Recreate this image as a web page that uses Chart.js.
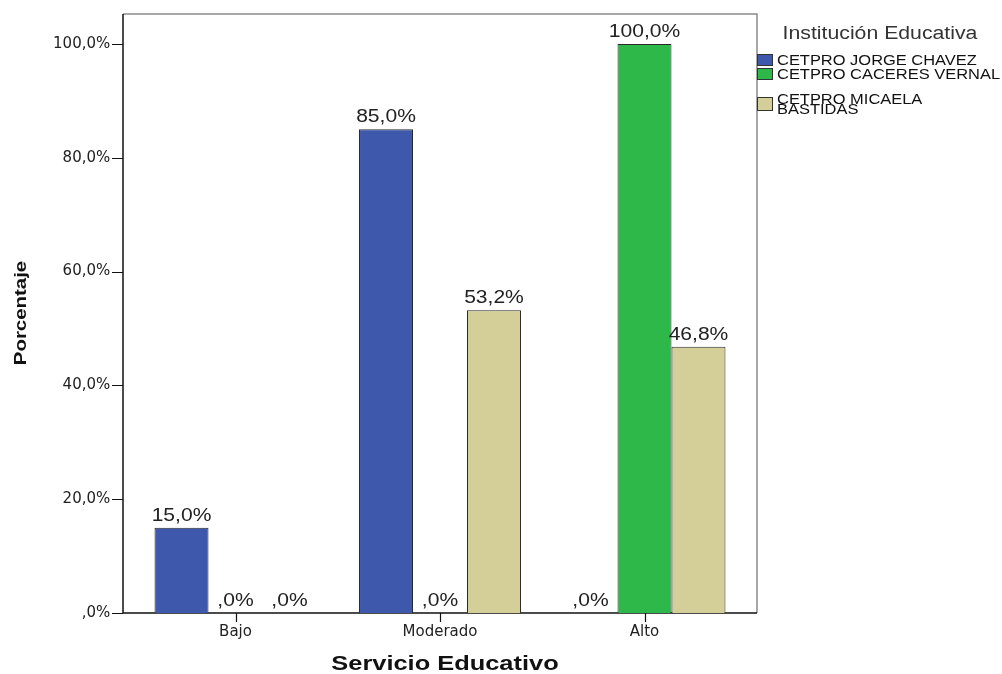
<!DOCTYPE html>
<html>
<head>
<meta charset="utf-8">
<script src="https://cdn.jsdelivr.net/npm/chart.js@4"></script>
<style>
  html, body { margin: 0; padding: 0; background: #fff; }
  canvas { display: block; }
</style>
</head>
<body>
<canvas id="servicioChart" width="1002" height="674"></canvas>
<script>
const categories = ['Bajo', 'Moderado', 'Alto'];
const jorgeChavez = [15.0, 85.0, 0.0];
const caceresVernal = [0.0, 0.0, 100.0];
const micaelaBastidas = [0.0, 53.2, 46.8];
const yTicks = [0, 20, 40, 60, 80, 100];

// SPSS style: comma decimals, no leading zero
function pct(v) {
    let s = v.toFixed(1).replace('.', ',');
    if (s.startsWith('0,')) s = s.slice(1);
    return s + '%';
}

function stretchText(ctx, text, x, y, font, align, sx) {
    ctx.save();
    ctx.font = font;
    ctx.translate(x, y);
    ctx.scale(sx, 1);
    ctx.textAlign = align;
    ctx.textBaseline = 'alphabetic';
    ctx.fillText(text, 0, 0);
    ctx.restore();
}

const frameLeft = 123, frameRight = 757;

const decorations = {
    id: 'decorations',
    beforeDatasetsDraw(chart) {
        const ctx = chart.ctx;
        const area = chart.chartArea;
        const x = chart.scales.x, y = chart.scales.y;
        ctx.save();
        // box around the plot
        ctx.strokeStyle = '#8a8a8a';
        ctx.lineWidth = 1.5;
        ctx.beginPath();
        ctx.moveTo(frameLeft, area.top);
        ctx.lineTo(frameRight, area.top);
        ctx.lineTo(frameRight, area.bottom);
        ctx.stroke();
        ctx.strokeStyle = '#111';
        ctx.beginPath();
        ctx.moveTo(frameLeft, area.top);
        ctx.lineTo(frameLeft, area.bottom);
        ctx.lineTo(frameRight, area.bottom);
        ctx.stroke();
        // tick marks
        ctx.lineWidth = 1.2;
        ctx.beginPath();
        y.ticks.forEach((t, i) => {
            const py = Math.round(y.getPixelForTick(i)) + 0.5;
            ctx.moveTo(frameLeft - 11, py);
            ctx.lineTo(frameLeft, py);
        });
        x.ticks.forEach((t, i) => {
            const px = Math.round(x.getPixelForTick(i)) + 0.5;
            ctx.moveTo(px, area.bottom);
            ctx.lineTo(px, area.bottom + 9);
        });
        ctx.stroke();
        ctx.restore();
    },
    afterDatasetsDraw(chart) {
        const ctx = chart.ctx;
        ctx.save();
        ctx.fillStyle = '#222';
        chart.data.datasets.forEach((ds, di) => {
            chart.getDatasetMeta(di).data.forEach((bar, i) => {
                stretchText(ctx, pct(ds.data[i]), bar.x, bar.y - 7,
                    '18px "Liberation Sans", Arial, sans-serif', 'center', 1.17);
            });
        });

        // axis titles
        ctx.fillStyle = '#111';
        stretchText(ctx, 'Servicio Educativo', 445, 670,
            'bold 21px "Liberation Sans", Arial, sans-serif', 'center', 1.21);
        ctx.save();
        ctx.translate(25.5, 313);
        ctx.rotate(-Math.PI / 2);
        stretchText(ctx, 'Porcentaje', 0, 0,
            'bold 17px "Liberation Sans", Arial, sans-serif', 'center', 1.2);
        ctx.restore();

        // legend
        ctx.fillStyle = '#333';
        stretchText(ctx, 'Institución Educativa', 880, 39,
            '18px "Liberation Sans", Arial, sans-serif', 'center', 1.18);
        const itemFont = '14px "Liberation Sans", Arial, sans-serif';
        const sx = 1.175;
        let top = 54;
        chart.data.datasets.forEach(ds => {
            ctx.font = itemFont;
            const words = ds.label.split(' ');
            const lines = [];
            let cur = '';
            words.forEach(w => {
                const test = cur ? cur + ' ' + w : w;
                if (cur && ctx.measureText(test).width * sx > 227) {
                    lines.push(cur);
                    cur = w;
                } else {
                    cur = test;
                }
            });
            lines.push(cur);
            const multi = lines.length > 1;
            if (multi) top += 4;
            const boxTop = multi ? top + 11 : top;
            const boxH = multi ? 13 : 11;
            ctx.fillStyle = ds.backgroundColor;
            ctx.strokeStyle = '#333';
            ctx.lineWidth = 1;
            ctx.fillRect(757.5, boxTop + 0.5, 15, boxH);
            ctx.strokeRect(757.5, boxTop + 0.5, 15, boxH);
            ctx.fillStyle = '#111';
            lines.forEach((ln, k) => {
                const base = multi ? top + 18 + k * 10 : top + 11;
                stretchText(ctx, ln, 777, base, itemFont, 'left', sx);
            });
            top += multi ? 32 : 14;
        });
        ctx.restore();
    }
};

new Chart(document.getElementById('servicioChart'), {
    type: 'bar',
    data: {
        labels: categories,
        datasets: [{
            label: 'CETPRO JORGE CHAVEZ',
            data: jorgeChavez,
            backgroundColor: '#3e58ab'
        }, {
            label: 'CETPRO CACERES VERNAL',
            data: caceresVernal,
            backgroundColor: '#2fb84a'
        }, {
            label: 'CETPRO MICAELA BASTIDAS',
            data: micaelaBastidas,
            backgroundColor: '#d4cf98'
        }]
    },
    options: {
        responsive: false,
        animation: false,
        devicePixelRatio: 1,
        layout: {
            padding: { left: 0, right: 255.25, top: 14, bottom: 0 }
        },
        datasets: {
            bar: {
                borderColor: '#2a2a2a',
                borderWidth: 1,
                categoryPercentage: 0.792,
                barPercentage: 1
            }
        },
        plugins: {
            legend: { display: false },
            tooltip: { enabled: false }
        },
        scales: {
            x: {
                grid: { display: false, drawTicks: false },
                border: { display: false },
                ticks: {
                    color: '#222',
                    padding: 10,
                    font: { family: '"DejaVu Sans", sans-serif', size: 15 }
                },
                afterFit(scale) {
                    scale.height = 61;
                    scale.paddingLeft = 0;
                    scale.paddingRight = 0;
                }
            },
            y: {
                min: 0,
                max: 105.27,
                grid: { display: false, drawTicks: false },
                border: { display: false },
                afterBuildTicks(scale) {
                    scale.ticks = yTicks.map(v => ({ value: v }));
                },
                ticks: {
                    color: '#222',
                    padding: 23,
                    font: { family: '"DejaVu Sans", sans-serif', size: 15 },
                    callback: v => pct(v)
                },
                afterFit(scale) {
                    scale.width = 133.25;
                    scale.paddingTop = 0;
                    scale.paddingBottom = 0;
                }
            }
        }
    },
    plugins: [decorations]
});
</script>
</body>
</html>
